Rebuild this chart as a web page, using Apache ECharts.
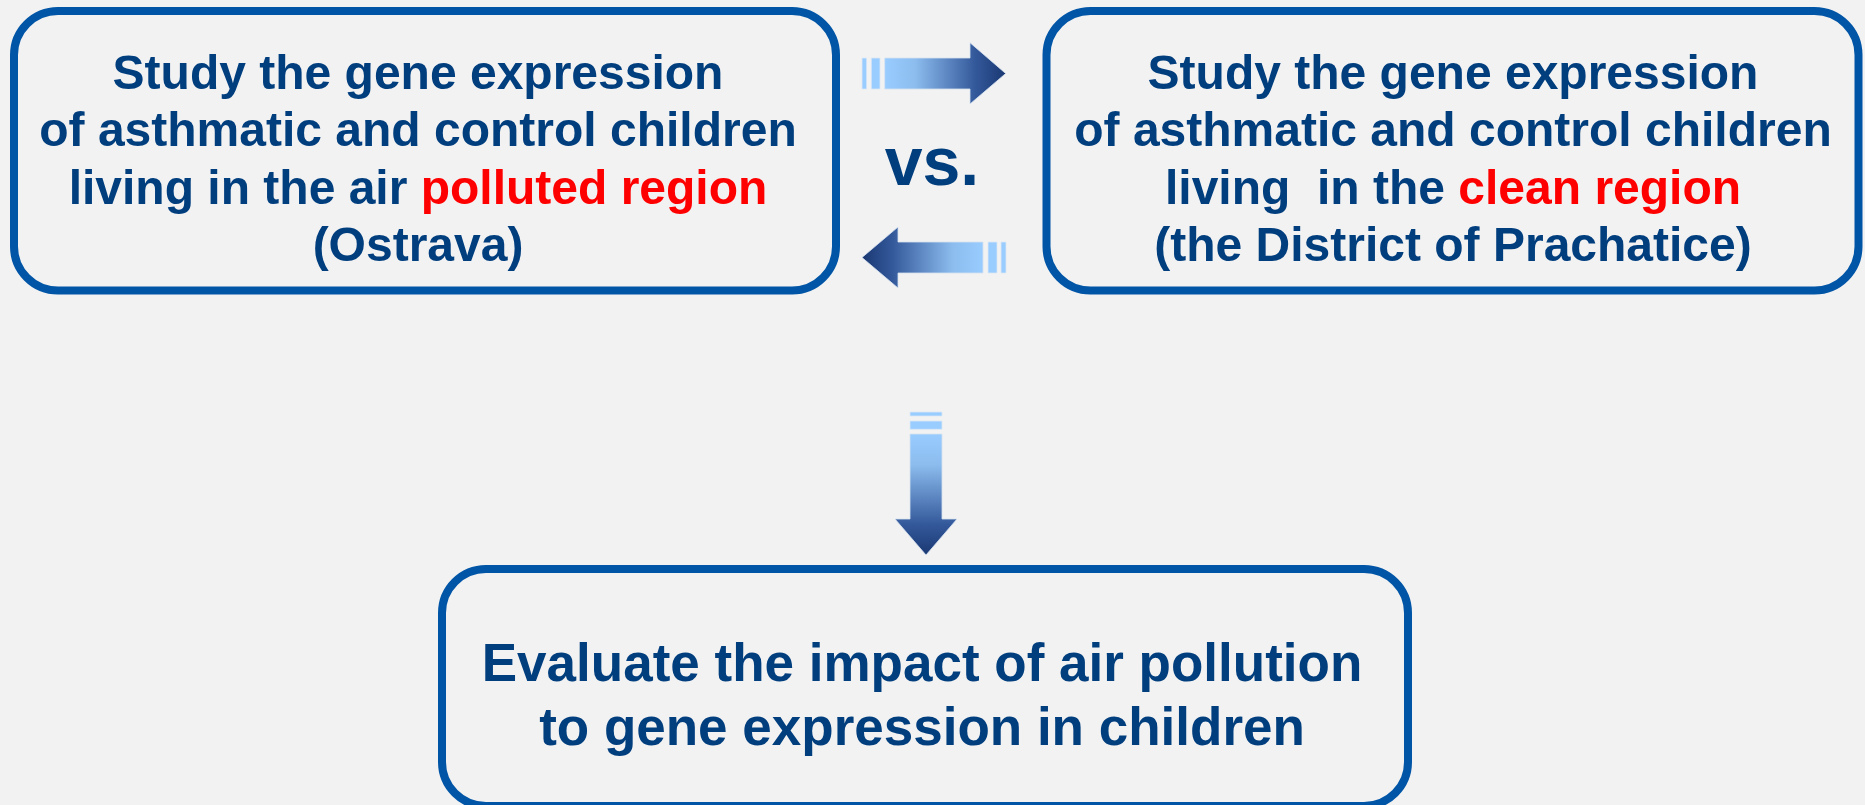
<!DOCTYPE html>
<html>
<head>
<meta charset="utf-8">
<title>Study design</title>
<script src="https://cdn.jsdelivr.net/npm/echarts@6.0.0/dist/echarts.min.js"></script>
<style>
	html, body { margin: 0; padding: 0; background: #F2F2F2; }
	#charts1 { width: 1865px; height: 805px; }
</style>
</head>
<body>
<div id="charts1"></div>
<script>
	// text of the three boxes, the red part of a line is kept apart
	var pollutedLines = ['Study the gene expression', 'of asthmatic and control children', 'living in the air ', '(Ostrava)'];
	var pollutedRed = ['', '', 'polluted region', ''];
	var cleanLines = ['Study the gene expression', 'of asthmatic and control children', 'living  in the ', '(the District of Prachatice)'];
	var cleanRed = ['', '', 'clean region', ''];
	var resultLines = ['Evaluate the impact of air pollution', 'to gene expression in children'];
	var vsLabel = 'vs.';

	var FONT = '"Liberation Sans", Arial, Helvetica, sans-serif';
	var BLUE_TEXT = '#003E7E';
	var BORDER = '#0055A6';
	var LIGHT = '#99CCFF';
	var DARK = '#1A3872';
	var MID = 0.21; // baseline -> middle, in em

	var charts1 = echarts.init(document.getElementById('charts1'));

	function box(x, y, w, h) {
		return {
			type: 'rect',
			shape: {x: x, y: y, width: w, height: h, r: 44},
			style: {fill: 'transparent', stroke: BORDER, lineWidth: 8}
		};
	}

	// one text element per line, baseline given, centred on cx
	function lines(plain, red, cx, baselines, size) {
		var out = [];
		for (var i = 0; i < plain.length; i++) {
			var txt = '{b|' + plain[i] + '}';
			if (red && red[i]) {
				txt += '{r|' + red[i] + '}';
			}
			out.push({
				type: 'text',
				style: {
					text: txt,
					x: cx,
					y: baselines[i] - size * MID,
					align: 'center',
					verticalAlign: 'middle',
					rich: {
						b: {fill: BLUE_TEXT, fontSize: size, fontWeight: 'bold', fontFamily: FONT},
						r: {fill: '#FF0000', fontSize: size, fontWeight: 'bold', fontFamily: FONT}
					}
				}
			});
		}
		return out;
	}

	function grad(x2, y2, flip) {
		var stops = [
			{offset: 0, color: LIGHT},
			{offset: 0.25, color: '#8DBDEF'},
			{offset: 0.75, color: '#33589A'},
			{offset: 1, color: DARK}
		];
		if (flip) {
			stops = stops.map(function (s) { return {offset: 1 - s.offset, color: s.color}; }).reverse();
		}
		return {type: 'linear', x: 0, y: 0, x2: x2, y2: y2, colorStops: stops};
	}

	function stripe(x, y, w, h) {
		return {
			type: 'rect',
			shape: {x: x, y: y, width: w, height: h},
			style: {fill: LIGHT, stroke: '#DCE8F5', lineWidth: 0.8}
		};
	}

	function arrow(points, fill) {
		return {
			type: 'polygon',
			shape: {points: points},
			style: {fill: fill, stroke: '#D5E2F0', lineWidth: 0.8}
		};
	}

	var graphic = [];
	graphic.push(box(14, 11, 822, 279.5));
	graphic.push(box(1046.5, 11, 812, 279.5));
	graphic.push(box(442, 569, 966, 237));

	graphic = graphic.concat(lines(pollutedLines, pollutedRed, 418, [85.5, 142.8, 200.5, 258], 48));
	graphic = graphic.concat(lines(cleanLines, cleanRed, 1453, [85.5, 142.8, 200.5, 258], 48));
	graphic = graphic.concat(lines(resultLines, null, 922, [677.7, 741.7], 53));

	graphic.push({
		type: 'text',
		style: {
			text: vsLabel, x: 932, y: 180.7 - 68 * MID,
			align: 'center', verticalAlign: 'middle',
			fill: BLUE_TEXT, fontSize: 68, fontWeight: 'bold', fontFamily: FONT
		}
	});

	// right arrow
	graphic.push(stripe(862, 58, 4.7, 31));
	graphic.push(stripe(871.3, 58, 8.7, 31));
	graphic.push(arrow([[884.7, 58], [970, 58], [970, 42.7], [1005.7, 73.5], [970, 104], [970, 89], [884.7, 89]], grad(1, 0, false)));

	// left arrow
	graphic.push(arrow([[862, 257.5], [898, 227], [898, 242], [983, 242], [983, 273], [898, 273], [898, 288]], grad(1, 0, true)));
	graphic.push(stripe(988, 242, 9, 31));
	graphic.push(stripe(1001, 242, 5, 31));

	// down arrow
	graphic.push(stripe(910, 412, 32, 4));
	graphic.push(stripe(910, 421, 32, 8.3));
	graphic.push(arrow([[910, 434], [942, 434], [942, 519], [957, 519], [926, 555], [895, 519], [910, 519]], grad(0, 1, false)));

	charts1.setOption({
		backgroundColor: '#F2F2F2',
		animation: false,
		graphic: graphic
	});

	window.onresize = function () {
		charts1.resize();
	};
</script>
</body>
</html>
